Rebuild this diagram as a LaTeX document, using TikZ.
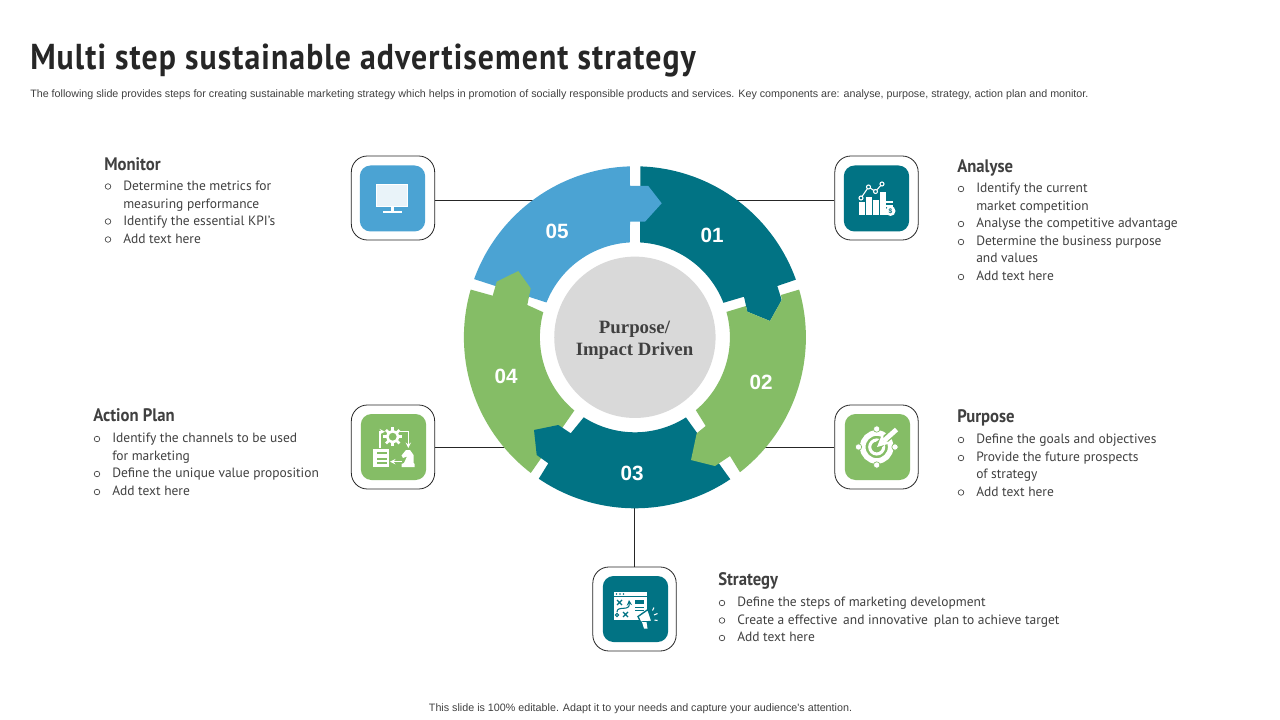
\documentclass[tikz,border=0pt]{standalone}
\usepackage{fontspec}
\setmainfont{PT Sans}
\newfontfamily\arialfont{Liberation Sans}
\newfontfamily\timesfont{Liberation Serif}
\newfontfamily\titlefont[LetterSpace=3.0,FakeStretch=0.883]{PT Sans}
\newfontfamily\headfont[FakeStretch=0.92]{PT Sans}
\usetikzlibrary{positioning, arrows, calc}
\definecolor{tealseg}{HTML}{017384}
\definecolor{greenseg}{HTML}{85BD66}
\definecolor{blueseg}{HTML}{4BA3D3}
\definecolor{greyhub}{HTML}{D9D9D9}
\definecolor{darktext}{HTML}{404040}

\begin{document}
\begin{tikzpicture}[x=0.75pt,y=-0.75pt]
	\tikzstyle{iconframe} = [draw=black!85, line width=0.6pt, fill=white, rounded corners=12pt, minimum width=62.5pt, minimum height=63pt, inner sep=0]
	\tikzstyle{tile} = [rounded corners=8pt, minimum width=49pt, minimum height=49.5pt, inner sep=0]
	\tikzstyle{link} = [draw=black!85, line width=0.7pt]
	\tikzstyle{headtext} = [anchor=base west, inner sep=0, text=darktext, font=\headfont\fontsize{13.6}{16}\selectfont\bfseries]
	\tikzstyle{bodytext} = [anchor=base west, inner sep=0, yshift=-0.4pt, text=darktext, font=\fontsize{10.1}{12}\selectfont]
	\tikzstyle{bullet} = [circle, draw=darktext, line width=0.5pt, minimum size=4.2pt, inner sep=0]
	\tikzstyle{num} = [text=white, inner sep=0, font=\arialfont\fontsize{15.5}{18}\selectfont\bfseries]
	\tikzstyle{iconline} = [draw=white, line width=0.8pt]
	\fill [white] (0,0) rectangle (1280,720);
	\coordinate (C) at (634.9,337.3);
	% heading lines
	\node [anchor=base west, inner sep=0, text=black!85] (title) at (30,70) {\titlefont\fontsize{27}{32}\selectfont\bfseries Multi step sustainable advertisement strategy};
	\node [anchor=base west, inner sep=0, text=darktext] (subtitle) at (30,97.7) {\arialfont\fontsize{8.04}{9}\selectfont The following slide provides steps for creating sustainable marketing strategy which helps in promotion of socially responsible products and services. Key components are: analyse, purpose, strategy, action plan and monitor.};
	\node [anchor=base, inner sep=0, text=darktext] (footer) at (640.5,711.5) {\arialfont\fontsize{8.05}{9}\selectfont This slide is 100\% editable. Adapt it to your needs and capture your audience's attention.};
	% icon boxes
	\node [iconframe] (frame_mon) at (393,198) {};
	\node [iconframe] (frame_ana) at (876.5,198) {};
	\node [iconframe] (frame_act) at (393,447) {};
	\node [iconframe] (frame_pur) at (876.5,447) {};
	\node [iconframe] (frame_str) at (634.5,609) {};
	\node [tile, fill=blueseg] (tile_mon) at (392.5,198.5) {};
	\node [tile, fill=tealseg] (tile_ana) at (876.5,198.5) {};
	\node [tile, fill=greenseg] (tile_act) at (393.5,447) {};
	\node [tile, fill=greenseg] (tile_pur) at (877.5,447) {};
	\node [tile, fill=tealseg] (tile_str) at (635.5,609) {};
	% connectors
	\coordinate (c_mon) at (540,200.3);
	\coordinate (c_ana) at (730,200.3);
	\coordinate (c_act) at (510,447);
	\coordinate (c_pur) at (760,447);
	\coordinate (c_str) at (634.2,500);
	\draw [link] (c_mon) -- (c_mon -| frame_mon.east);
	\draw [link] (c_ana) -- (c_ana -| frame_ana.west);
	\draw [link] (c_act) -- (c_act -| frame_act.east);
	\draw [link] (c_pur) -- (c_pur -| frame_pur.west);
	\draw [link] (c_str) -- (c_str |- frame_str.north);
	% ring pieces
	\fill [tealseg] ([shift={(C)}]-88.2:171) arc[start angle=-88.2,end angle=-19.7,radius=171] -- (777.3,286) -- (781.7,300) -- (770,321) -- (747.3,311.7) -- (744,296.7) -- ([shift={(C)}]-21.3:95) arc[start angle=-21.3,end angle=-86.8,radius=95] -- cycle;
	\fill [blueseg] ([shift={(C)}]199.9:171) arc[start angle=199.9,end angle=268.3,radius=171] -- (630,186) -- (648.3,186) -- (661.7,203.3) -- (645,221.7) -- (630,221.7) -- ([shift={(C)}]267:95) arc[start angle=267,end angle=201.5,radius=95] -- cycle;
	\fill [greenseg] ([shift={(C)}]127.5:171) arc[start angle=127.5,end angle=196.2,radius=171] -- (492.7,295.7) -- (496.7,281.7) -- (518.3,271) -- (530.7,288.3) -- (527.3,305) -- ([shift={(C)}]195.3:95) arc[start angle=195.3,end angle=129.6,radius=95] -- cycle;
	\fill [tealseg] ([shift={(C)}]56.1:171) arc[start angle=56.1,end angle=124.2,radius=171] -- (548.3,463.3) -- (536.7,455) -- (534,430) -- (558.3,425) -- (570.7,433.3) -- ([shift={(C)}]122.6:95) arc[start angle=122.6,end angle=57.5,radius=95] -- cycle;
	\fill [greenseg] ([shift={(C)}]-16.2:171) arc[start angle=-16.2,end angle=52.1,radius=171] -- (730,456) -- (715,466) -- (691,460) -- (696.7,433.3) -- (705.7,426) -- ([shift={(C)}]50.1:95) arc[start angle=50.1,end angle=-15.5,radius=95] -- (746,306) -- (747.3,311.7) -- (770,321) -- (781.7,300) -- (781,295) -- cycle;
	\node [circle, fill=greyhub, minimum size=121pt, inner sep=0] (hub) at (C) {};
	\node [align=center, inner sep=0, text=darktext, font=\timesfont\fontsize{14.1}{16.5}\selectfont\bfseries] (hubtext) at (634.5,340.5) {Purpose/\\Impact Driven};
	\node [num] (n01) at (712,235) {01};
	\node [num] (n02) at (761,382) {02};
	\node [num] (n03) at (632,473) {03};
	\node [num] (n04) at (506,376) {04};
	\node [num] (n05) at (557,231) {05};
	% monitor icon
	\draw [iconline, fill=white, fill opacity=0.88] (376.5,184.5) rectangle (407.5,206.5);
	\fill [white] (390.5,206.5) rectangle (393.5,212);
	\fill [white] (382.5,211.5) rectangle (401.5,213.5);
	% analyse icon
	\foreach \xa/\ya in {859/202,866/197,873/200,880/192}
		\fill [white] (\xa,\ya) rectangle (\xa+5.6,215);
	\foreach \ya in {201,205,209,213}
		\fill [white] (886,\ya) rectangle (893,\ya+2.5);
	\fill [white] (890.5,211) circle [radius=5];
	\node [text=tealseg, inner sep=0, font=\arialfont\fontsize{5}{6}\selectfont\bfseries] (coin) at (890.5,211) {\$};
	\draw [iconline] (861,198) -- (868.5,187) -- (875.5,191.5) -- (882,184);
	\foreach \xa/\ya in {861/198,868.5/187,875.5/191.5,882/184}
		\draw [iconline, fill=tealseg] (\xa,\ya) circle [radius=2];
	% action plan icon
	\foreach \a in {0,45,...,315}
		\draw [white, line width=2pt] (392.7,436.7) ++(\a:5) -- ++(\a:4.5);
	\draw [white, line width=2pt, fill=greenseg] (392.7,436.7) circle [radius=5.5];
	\draw [iconline, -stealth] (380,448) -- (380,431.7) -- (385,431.7);
	\draw [iconline, -stealth] (400,431.7) -- (408.3,431.7) -- (408.3,448);
	\fill [white] (373.3,448.5) rectangle (389.3,467);
	\foreach \ya in {453,459,463}
		\fill [greenseg] (376.5,\ya-1.2) rectangle (386.5,\ya+1);
	\draw [iconline, -stealth] (401.5,461.7) -- (390,461.7);
	\fill [white] (401.5,467) -- (401.5,464) -- (404,463) -- (407,456.5) -- (403,458) -- (401.5,455.5) -- (406,450) -- (410,450) -- (413.5,455) -- (413.5,463) -- (414.5,464) -- (414.5,467) -- cycle;
	% purpose icon
	\draw [white, line width=4.2pt] (876.7,447) circle [radius=14];
	\foreach \xa/\ya in {876.7/429,876.7/465,858.5/447,895/447}
		\fill [white, draw=greenseg, line width=0.5pt] (\xa,\ya) circle [radius=3.2];
	\draw [white, line width=2.3pt] (876.7,447) circle [radius=7];
	\draw [greenseg, line width=5.8pt] (878,445.5) -- (897,429);
	\draw [white, line width=3.6pt, -stealth] (896.5,429.5) -- (877,447);
	% strategy icon
	\fill [white] (613.5,591.5) rectangle (646.5,620);
	\foreach \xa in {616.5,620,623.5}
		\fill [tealseg] (\xa,594) circle [radius=0.9];
	\draw [tealseg, line width=0.6pt] (613.5,596.5) -- (646.5,596.5);
	\draw [tealseg, line width=0.9pt] (617,600) -- (622,605) (622,600) -- (617,605) (623,612) -- (628,617) (628,612) -- (623,617);
	\draw [tealseg, line width=0.8pt, -stealth] (617,612) .. controls (617,605) and (630,612) .. (629,600);
	\draw [tealseg, line width=0.8pt] (617,615) circle [radius=1.7];
	\fill [tealseg] (635,600) rectangle (644,603.5);
	\draw [tealseg, line width=0.7pt] (635,607) -- (644,607) (635,610.5) -- (644,610.5);
	\draw [fill=white, draw=tealseg, line width=1pt] (638,616.5) -- (648,609.5) -- (652,621.5) -- (640.5,622) -- cycle;
	\fill [white] (642,622) -- (646.5,622) -- (647.5,628.5) -- (644,628.5) -- cycle;
	\draw [iconline] (652.5,610.5) -- (654,607.5) (654,615) -- (657.5,613.5) (654.5,620) -- (657.5,620.5);
	% monitor text
	\node [headtext] (h_mon) at (104,171) {Monitor};
	\foreach \i/\y/\t in {1/189.5/Determine the metrics for, 2/207.5/measuring performance, 3/224.5/Identify the essential KPI's, 4/242.5/Add text here}
		\node [bodytext] (mon\i) at (123,\y) {\t};
	\foreach \i/\y in {1/186.5,3/221.5,4/239.5}
		\node [bullet] (bm\i) at (108,\y) {};
	% analyse text
	\node [headtext] (h_ana) at (957,173) {Analyse};
	\foreach \i/\y/\t in {1/192/Identify the current, 2/210/market competition, 3/227/Analyse the competitive advantage, 4/245/Determine the business purpose, 5/262/and values, 6/280/Add text here}
		\node [bodytext] (ana\i) at (976,\y) {\t};
	\foreach \i/\y in {1/189,3/224,4/242,6/277}
		\node [bullet] (ba\i) at (961,\y) {};
	% action plan text
	\node [headtext] (h_act) at (93,421) {Action Plan};
	\foreach \i/\y/\t in {1/442/Identify the channels to be used, 2/459.5/for marketing, 3/477/Define the unique value proposition, 4/495/Add text here}
		\node [bodytext] (act\i) at (112,\y) {\t};
	\foreach \i/\y in {1/439,3/474,4/492}
		\node [bullet] (bc\i) at (97,\y) {};
	% purpose text
	\node [headtext] (h_pur) at (957,422) {Purpose};
	\foreach \i/\y/\t in {1/443/Define the goals and objectives, 2/461/Provide the future prospects, 3/478/of strategy, 4/495.5/Add text here}
		\node [bodytext] (pur\i) at (976,\y) {\t};
	\foreach \i/\y in {1/440,2/458,4/492.5}
		\node [bullet] (bp\i) at (961,\y) {};
	% strategy text
	\node [headtext] (h_str) at (718,585) {Strategy};
	\foreach \i/\y/\t in {1/606/Define the steps of marketing development, 2/623.5/Create a effective\, and innovative\, plan to achieve target, 3/641/Add text here}
		\node [bodytext] (str\i) at (737,\y) {\t};
	\foreach \i/\y in {1/603,2/620.5,3/638}
		\node [bullet] (bs\i) at (722,\y) {};
\end{tikzpicture}
\end{document}
